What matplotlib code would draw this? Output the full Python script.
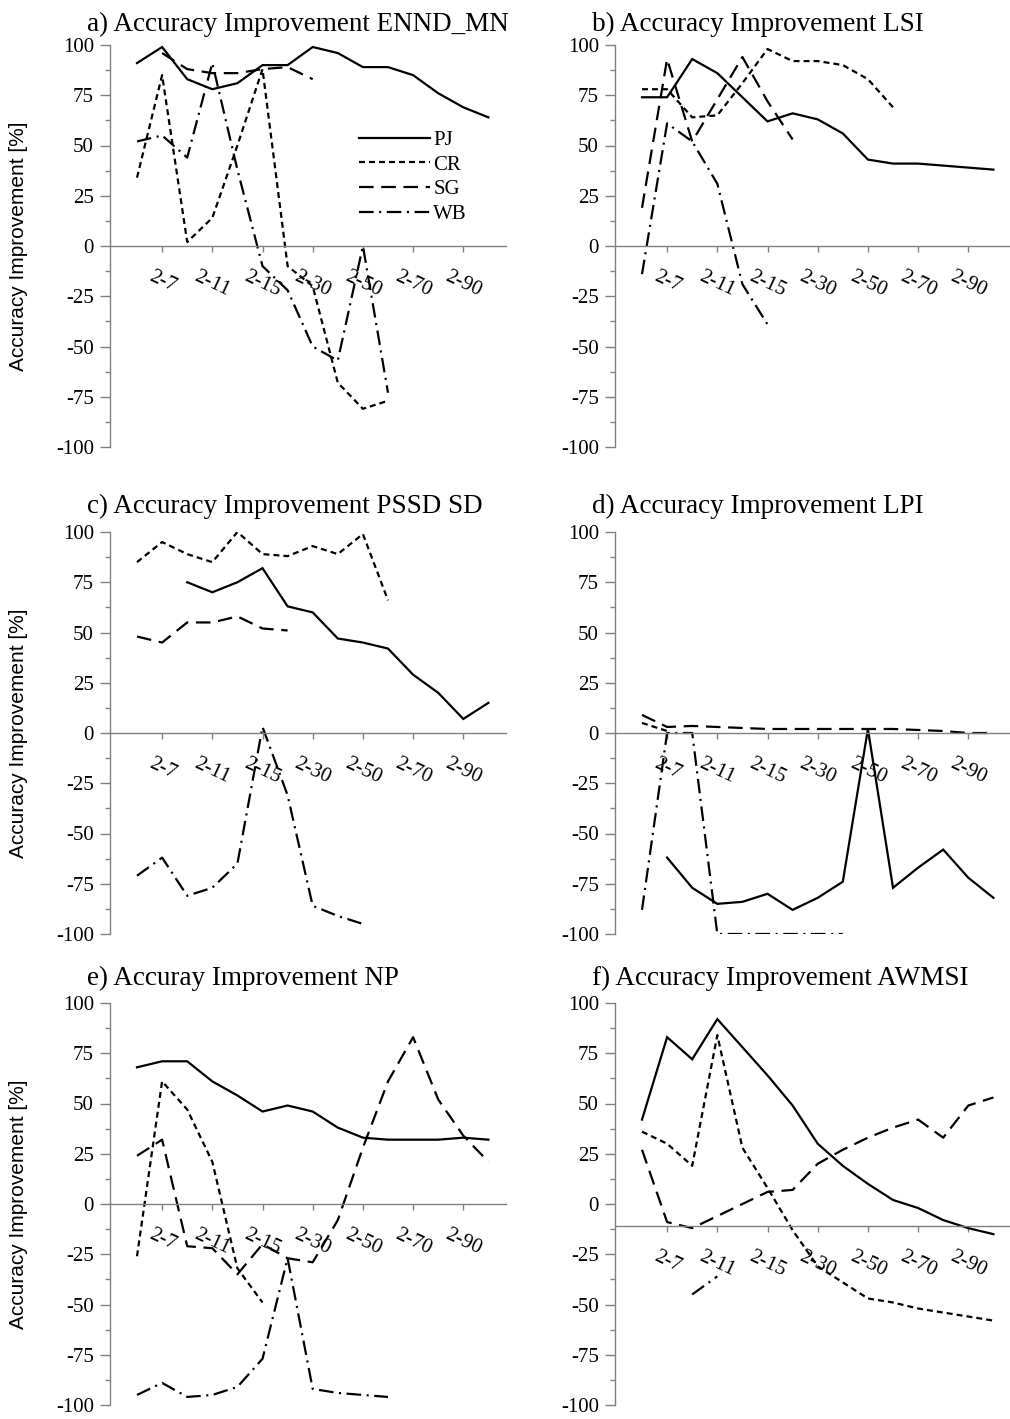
import numpy as np
import matplotlib.pyplot as plt
from matplotlib.ticker import MultipleLocator

plt.rcParams['lines.scale_dashes'] = False
plt.rcParams['axes.unicode_minus'] = False

N = np.nan
CATEGORIES = ['2-5', '2-7', '2-9', '2-11', '2-13', '2-15', '2-20', '2-30',
              '2-40', '2-50', '2-60', '2-70', '2-80', '2-90', '2-100']
TICK_POS = list(range(1, 15, 2))
TICK_LABELS = CATEGORIES[1::2]
SERIES = ['PJ', 'CR', 'SG', 'WB']

# a) ENND_MN
A_PJ = [91, 99, 83, 78, 81, 90, 90, 99, 96, 89, 89, 85, 76, 69, 64]
A_CR = [34, 85, 2, 14, 50, 88, -10, -20, -68, -81, -77]
A_SG = [N, 96, 88, 86, 86, 88, 89, 83]
A_WB = [52, 55, 44, 91, 38, -10, -22, -50, -57, 0, -73]

# b) LSI
B_PJ = [74, 74, 93, 86, 74, 62, 66, 63, 56, 43, 41, 41, 40, 39, 38]
B_CR = [78, 78, 64, 65, 81, 98, 92, 92, 90, 83, 69]
B_SG = [19, 93, 52, 73, 94, 72, 53]
B_WB = [-14, 61, 52, 31, -19, -39]

# c) PSSD SD
C_PJ = [N, N, 75, 70, 75, 82, 63, 60, 47, 45, 42, 29, 20, 7, 15]
C_CR = [85, 95, 89, 85, 100, 89, 88, 93, 89, 99, 66]
C_SG = [48, 45, 55, 55, 58, 52, 51]
C_WB = [-71, -62, -81, -77, -65, 3, -31, -86, -91, -95]

# d) LPI
D_PJ = [N, -62, -77, -85, -84, -80, -88, -82, -74, 2, -77, -67, -58, -72, -82]
D_CR = [5, 1]
D_SG = [9, 3, 3.5, 3, 2.5, 2, 2, 2, 2, 2, 2, 1.5, 1, 0, 0]
D_WB = [-88, 0, 0, -100, -100, -100, -100, -100, -100]

# e) NP
E_PJ = [68, 71, 71, 61, 54, 46, 49, 46, 38, 33, 32, 32, 32, 33, 32]
E_CR = [-26, 61, 47, 21, -32, -49]
E_SG = [24, 32, -21, -22, -35, -20, -27, -29, -8, 28, 61, 83, 52, 34, 21]
E_WB = [-95, -89, -96, -95, -91, -77, -27, -92, -94, -95, -96]

# f) AWMSI
F_PJ = [42, 83, 72, 92, 78, 64, 49, 30, 19, 10, 2, -2, -8, -12, -15]
F_CR = [36, 30, 19, 84, 28, 8, -13, -31, -39, -47, -49, -52, -54, -56, -58]
F_SG = [27, -9, -12, -6, 0, 6, 7, 20, 27, 33, 38, 42, 33, 49, 53]
F_WB = [N, N, -45, -36]

PANELS = [
    ('a) Accuracy Improvement ENND_MN', [A_PJ, A_CR, A_SG, A_WB], 0),
    ('b) Accuracy Improvement LSI', [B_PJ, B_CR, B_SG, B_WB], 0),
    ('c) Accuracy Improvement PSSD SD', [C_PJ, C_CR, C_SG, C_WB], 0),
    ('d) Accuracy Improvement LPI', [D_PJ, D_CR, D_SG, D_WB], 0),
    ('e) Accuray Improvement NP', [E_PJ, E_CR, E_SG, E_WB], 0),
    ('f) Accuracy Improvement AWMSI', [F_PJ, F_CR, F_SG, F_WB], -11),
]

STYLES = [
    dict(linestyle='-'),
    dict(linestyle=(0, (4.3, 2.9))),
    dict(linestyle=(0, (10.5, 5.5))),
    dict(linestyle=(0, (10.5, 4, 1.5, 4))),
]

SERIF = 'Liberation Serif'
SANS = 'Liberation Sans'
GRAY = '#808080'

fig = plt.figure(figsize=(10.1, 14.19), dpi=100)

W, H = 1010.0, 1419.0
col_left = [110, 615]
row_top = [45, 532, 1003]
ax_w, ax_h = 396, 402
title_off = [14, 19, 18]

for k, (title, series, xaxis_y) in enumerate(PANELS):
    r, c = divmod(k, 2)
    ax = fig.add_axes([col_left[c] / W, 1 - (row_top[r] + ax_h) / H, ax_w / W, ax_h / H])

    for vals, st, name in zip(series, STYLES, SERIES):
        x = np.arange(len(vals))
        ax.plot(x, np.array(vals, dtype=float), color='black', lw=1.6,
                label=name, solid_joinstyle='miter', **st)

    ax.set_xlim(-1.076, -1.076 + ax_w / 25.1)
    ax.set_ylim(-100, 100)

    for s in ['top', 'right']:
        ax.spines[s].set_visible(False)
    ax.spines['left'].set_color(GRAY)
    ax.spines['bottom'].set_color(GRAY)
    ax.spines['left'].set_linewidth(1.0)
    ax.spines['bottom'].set_linewidth(1.0)
    ax.spines['bottom'].set_position(('data', xaxis_y))

    ax.yaxis.set_major_locator(MultipleLocator(25))
    ax.yaxis.set_minor_locator(MultipleLocator(12.5))
    ax.tick_params(axis='y', which='major', length=7.5, width=1, color=GRAY, pad=4,
                   labelsize=15)
    ax.tick_params(axis='y', which='minor', length=3.5, width=1, color=GRAY)
    for lab in ax.get_yticklabels():
        lab.set_fontfamily(SERIF)

    ax.set_xticks(TICK_POS)
    ax.set_xticklabels(TICK_LABELS, rotation=-25, ha='center', va='top',
                       fontfamily=SERIF, fontsize=15)
    ax.tick_params(axis='x', which='major', length=4, width=1, color=GRAY, pad=11)

    ax.text(-23 / ax_w, 1 + title_off[r] / ax_h, title, transform=ax.transAxes,
            ha='left', va='baseline', fontsize=19.5, fontfamily=SERIF)

    if c == 0:
        ax.set_ylabel('Accuracy Improvement [%]', fontsize=15, fontfamily=SANS)
        ax.yaxis.set_label_coords(-(110 - 28) / ax_w, 0.5)

    if k == 0:
        ax.legend(loc='upper left', bbox_to_anchor=(0.63, 0.788), frameon=False,
                  handlelength=3.4, handletextpad=0.15, labelspacing=0.25,
                  borderpad=0, borderaxespad=0,
                  prop={'family': SERIF, 'size': 15})

fig.savefig('out.png', dpi=100)
